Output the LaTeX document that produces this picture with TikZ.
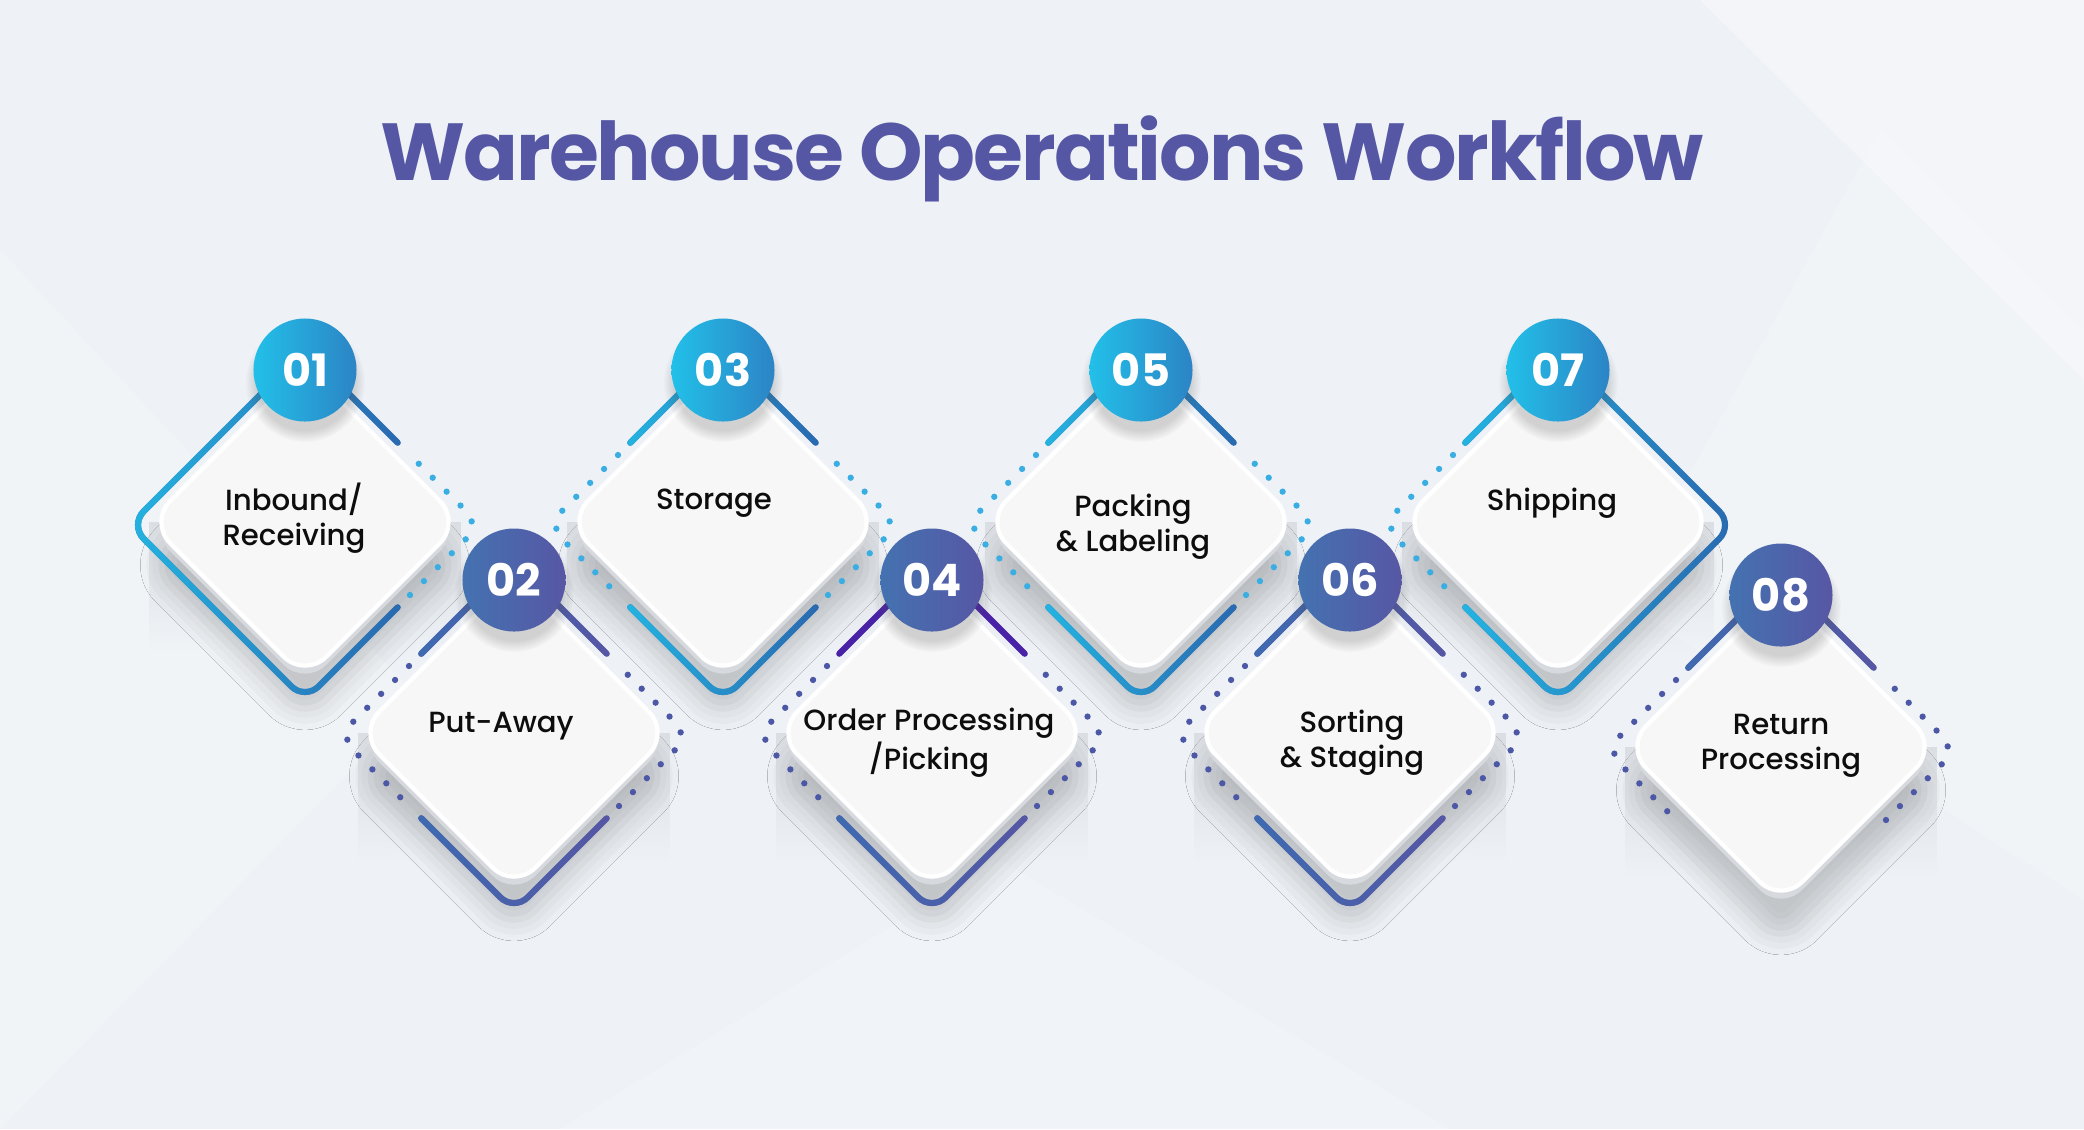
\documentclass[tikz,border=0pt]{standalone}
\usepackage{fontspec}
\setmainfont{Poppins}
\newfontfamily\titlefont{Poppins}[LetterSpace=-2.5]
\newfontfamily\labelfont{Poppins Medium}
\usetikzlibrary{calc, fadings, shadows.blur}

\definecolor{bgbase}{HTML}{EEF2F6}
\definecolor{titleblue}{HTML}{5557A5}
\definecolor{cyanA}{HTML}{24B4E1}
\definecolor{blueA}{HTML}{2A69B0}
\definecolor{blueB}{HTML}{3F6BB1}
\definecolor{indigoB}{HTML}{5656A4}
\definecolor{violetB}{HTML}{4A22A8}
\definecolor{dotA}{HTML}{3AAEE3}
\definecolor{dotB}{HTML}{4C58A6}
\definecolor{numtopA}{HTML}{22C0E9}
\definecolor{numtopB}{HTML}{2C84C5}
\definecolor{numlowA}{HTML}{4472B1}
\definecolor{numlowB}{HTML}{5757A4}
\definecolor{facegray}{HTML}{F7F7F8}
\definecolor{sidegray}{HTML}{D6D9DE}

\tikzfading[name=fadedown, top color=transparent!20, bottom color=transparent!100]
\tikzfading[name=fadeeast, left color=transparent!0, right color=transparent!100]

\tikzstyle{titletext} = [font=\titlefont\bfseries\fontsize{23pt}{28pt}\selectfont, text=titleblue, anchor=base]
\tikzstyle{steptext} = [font=\labelfont\fontsize{8.3pt}{10pt}\selectfont, text=black!95, align=center]
\tikzstyle{numtop} = [circle, minimum size=29.3pt, inner sep=0pt, left color=numtopA, right color=numtopB, text=white, font=\bfseries\fontsize{12.7pt}{14pt}\selectfont]
\tikzstyle{numlow} = [numtop, left color=numlowA, right color=numlowB]
\tikzstyle{numshade} = [black!70, opacity=0.22, path fading=circle with fuzzy edge 20 percent]
\tikzstyle{edgeline} = [line width=1.75pt, line cap=round, rounded corners=5.5pt]
\tikzstyle{dotsup} = [edgeline, draw=dotA, line width=1.8pt, dash pattern=on 0pt off 5.6pt]
\tikzstyle{dotslow} = [dotsup, draw=dotB]
\tikzstyle{cardface} = [fill=facegray, draw=white, line width=1.2pt, rounded corners=8.5pt]
\tikzstyle{cardside} = [fill=sidegray, rounded corners=8.5pt, blur shadow={shadow xshift=0pt, shadow yshift=-10pt, shadow blur radius=6pt, shadow opacity=18}]

% corner points of one step diamond (#1 name, #2 x, #3 y)
\newcommand{\stepspot}[3]{%
  \coordinate (#1) at (#2,#3);
  \coordinate (#1-T) at (#2,#3-175);
  \coordinate (#1-L) at (#2-175,#3);
  \coordinate (#1-B) at (#2,#3+175);
  \coordinate (#1-R) at (#2+175,#3);
  \coordinate (#1-a1) at ($(#1-T)!0.53!(#1-L)$);
  \coordinate (#1-a2) at ($(#1-T)!0.60!(#1-L)$);
  \coordinate (#1-b1) at ($(#1-B)!0.60!(#1-L)$);
  \coordinate (#1-b2) at ($(#1-B)!0.53!(#1-L)$);
  \coordinate (#1-c1) at ($(#1-B)!0.53!(#1-R)$);
  \coordinate (#1-c2) at ($(#1-B)!0.60!(#1-R)$);
  \coordinate (#1-d1) at ($(#1-T)!0.60!(#1-R)$);
  \coordinate (#1-d2) at ($(#1-T)!0.53!(#1-R)$);
}
% raised side of a card (#1 x, #2 y)
\newcommand{\stepshade}[2]{%
  \fill[sidegray, path fading=fadedown] (#1-156,#2-3) rectangle (#1+156,#2+125);
  \path[cardside] (#1,#2-151) -- (#1-156,#2+5) -- (#1,#2+161) -- (#1+156,#2+5) -- cycle;
}
% white top of a card (#1 x, #2 y)
\newcommand{\stepface}[2]{%
  \path[cardface] (#1,#2-159) -- (#1-156,#2-3) -- (#1,#2+153) -- (#1+156,#2-3) -- cycle;
}
% outline part with a colour run from left to right
\newcommand{\gradline}[3]{%
  \draw[edgeline, #2] #3;
  \draw[edgeline, #1, path fading=fadeeast] #3;
}

\begin{document}
\begin{tikzpicture}[x=0.01cm, y=-0.01cm]

\useasboundingbox (0,0) rectangle (2084,1129);

% Background
\fill[bgbase] (0,0) rectangle (2084,1129);
\fill[white, opacity=0.3] (1700,0) -- (2084,0) -- (2084,380) -- cycle;
\fill[white, opacity=0.18] (1880,130) -- (2084,330) -- (2084,900) -- (1620,600) -- cycle;
\fill[white, opacity=0.2] (0,250) -- (420,700) -- (0,1129) -- cycle;
\fill[white, opacity=0.15] (560,1129) -- (1000,860) -- (1450,1129) -- cycle;

% Title
\node (title) [titletext] at (1042,180) {Warehouse Operations Workflow};

% Diamond points
\stepspot{s01}{305}{525}
\stepspot{s02}{514}{736}
\stepspot{s03}{723}{525}
\stepspot{s04}{932}{736}
\stepspot{s05}{1141}{525}
\stepspot{s06}{1350}{736}
\stepspot{s07}{1558}{525}
\stepspot{s08}{1781}{750}

% Card sides
\stepshade{305}{525}
\stepshade{723}{525}
\stepshade{1141}{525}
\stepshade{1558}{525}
\stepshade{514}{736}
\stepshade{932}{736}
\stepshade{1350}{736}
\stepshade{1781}{750}

% Card tops
\stepface{305}{525}
\stepface{723}{525}
\stepface{1141}{525}
\stepface{1558}{525}
\stepface{514}{736}
\stepface{932}{736}
\stepface{1350}{736}
\stepface{1781}{750}

% Step 01
\gradline{cyanA}{blueA}{(s01-T) -- (s01-L) -- (s01-B) -- (s01-c1) (s01-d2) -- (s01-T)}
\draw[dotsup] (s01-c2) -- (s01-R) -- (s01-d1);

% Step 02
\gradline{blueB}{indigoB}{(s02-T) -- (s02-a1) (s02-b2) -- (s02-B) -- (s02-c1) (s02-d2) -- (s02-T)}
\draw[dotslow] (s02-a2) -- (s02-L) -- (s02-b1);
\draw[dotslow] (s02-c2) -- (s02-R) -- (s02-d1);

% Step 03
\gradline{cyanA}{blueA}{(s03-T) -- (s03-a1) (s03-b2) -- (s03-B) -- (s03-c1) (s03-d2) -- (s03-T)}
\draw[dotsup] (s03-a2) -- (s03-L) -- (s03-b1);
\draw[dotsup] (s03-c2) -- (s03-R) -- (s03-d1);

% Step 04
\gradline{blueB}{indigoB}{(s04-b2) -- (s04-B) -- (s04-c1)}
\draw[edgeline, violetB] (s04-T) -- (s04-a1) (s04-d2) -- (s04-T);
\draw[dotslow] (s04-a2) -- (s04-L) -- (s04-b1);
\draw[dotslow] (s04-c2) -- (s04-R) -- (s04-d1);

% Step 05
\gradline{cyanA}{blueA}{(s05-T) -- (s05-a1) (s05-b2) -- (s05-B) -- (s05-c1) (s05-d2) -- (s05-T)}
\draw[dotsup] (s05-a2) -- (s05-L) -- (s05-b1);
\draw[dotsup] (s05-c2) -- (s05-R) -- (s05-d1);

% Step 06
\gradline{blueB}{indigoB}{(s06-T) -- (s06-a1) (s06-b2) -- (s06-B) -- (s06-c1) (s06-d2) -- (s06-T)}
\draw[dotslow] (s06-a2) -- (s06-L) -- (s06-b1);
\draw[dotslow] (s06-c2) -- (s06-R) -- (s06-d1);

% Step 07
\gradline{cyanA}{blueA}{(s07-T) -- (s07-a1) (s07-b2) -- (s07-B) -- (s07-R) -- (s07-T)}
\draw[dotsup] (s07-a2) -- (s07-L) -- (s07-b1);

% Step 08
\gradline{blueB}{indigoB}{(s08-T) -- (s08-a1) (s08-d2) -- (s08-T)}
\draw[dotslow] (s08-a2) -- (s08-L) -- (s08-b1);
\draw[dotslow] (s08-c2) -- (s08-R) -- (s08-d1);

% Number shadows
\fill[numshade] (305,382) circle (60);
\fill[numshade] (723,382) circle (60);
\fill[numshade] (1141,382) circle (60);
\fill[numshade] (1558,382) circle (60);
\fill[numshade] (514,592) circle (60);
\fill[numshade] (932,592) circle (60);
\fill[numshade] (1350,592) circle (60);
\fill[numshade] (1781,607) circle (60);

% Numbers
\node (n01) [numtop] at (305,370) {01};
\node (n03) [numtop] at (723,370) {03};
\node (n05) [numtop] at (1141,370) {05};
\node (n07) [numtop] at (1558,370) {07};
\node (n02) [numlow] at (514,580) {02};
\node (n04) [numlow] at (932,580) {04};
\node (n06) [numlow] at (1350,580) {06};
\node (n08) [numlow] at (1781,595) {08};

% Labels
\node (t01) [steptext] at (294,518) {Inbound/\\Receiving};
\node (t03) [steptext] at (714,503) {Storage};
\node (t05) [steptext] at (1133,527) {Packing\\\& Labeling};
\node (t07) [steptext] at (1552,503) {Shipping};
\node (t02) [steptext] at (501,726) {Put-Away};
\node (t04) [steptext] at (929,743) {Order Processing\\/Picking};
\node (t06) [steptext] at (1352,743) {Sorting\\\& Staging};
\node (t08) [steptext] at (1781,746) {Return\\Processing};

\end{tikzpicture}
\end{document}
